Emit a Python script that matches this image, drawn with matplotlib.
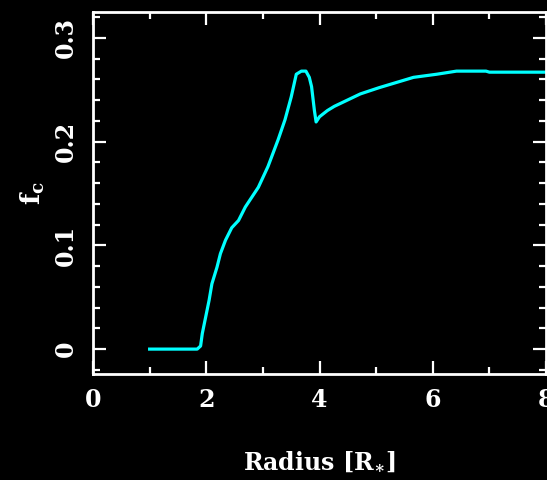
import numpy as np
import matplotlib
matplotlib.use("Agg")
import matplotlib.pyplot as plt
from matplotlib.ticker import MultipleLocator

# f_c profile
radius = [1.0, 1.84, 1.90, 1.93, 1.99, 2.05, 2.10, 2.19, 2.25, 2.34, 2.45,
          2.57, 2.69, 2.92, 3.09, 3.27, 3.39, 3.50, 3.59, 3.68, 3.76, 3.82,
          3.86, 3.91, 3.94, 4.00, 4.14, 4.26, 4.49, 4.72, 5.05, 5.66, 6.07,
          6.42, 6.94, 7.00, 8.00]
fc = [0.0, 0.0, 0.003, 0.015, 0.031, 0.047, 0.063, 0.079, 0.092, 0.105, 0.117,
      0.124, 0.137, 0.156, 0.176, 0.202, 0.221, 0.243, 0.265, 0.268, 0.268, 0.262,
      0.253, 0.230, 0.219, 0.224, 0.230, 0.234, 0.240, 0.246, 0.252, 0.262, 0.265,
      0.268, 0.268, 0.267, 0.267]

xticks = [0, 2, 4, 6, 8]
yticks = [0, 0.1, 0.2, 0.3]
ytick_labels = ["0", "0.1", "0.2", "0.3"]

plt.rcParams['font.family'] = 'DejaVu Serif'
plt.rcParams['font.weight'] = 'bold'
plt.rcParams['mathtext.fontset'] = 'dejavuserif'

fig = plt.figure(figsize=(5.47, 4.80), dpi=100, facecolor='black')
ax = fig.add_axes([93/547, 106/480, 453/547, 362/480], facecolor='black')

ax.plot(radius, fc, color='#00ffff', lw=2.3)

ax.set_xlim(0, 8)
ax.set_ylim(-0.024, 0.325)

for s in ax.spines.values():
    s.set_color('white')
    s.set_linewidth(2.0)

ax.set_xticks(xticks)
ax.set_yticks(yticks)
ax.set_yticklabels(ytick_labels, rotation=90, va='center')
ax.xaxis.set_minor_locator(MultipleLocator(1))
ax.yaxis.set_minor_locator(MultipleLocator(0.02))
ax.tick_params(which='both', direction='in', top=True, right=True,
               colors='white', width=1.6)
ax.tick_params(which='major', length=9.5, labelsize=17)
ax.tick_params(which='minor', length=5)
ax.tick_params(axis='x', pad=10)
ax.tick_params(axis='y', pad=11)

ax.set_xlabel(r'Radius [R$_{\ast}$]', color='white', fontsize=17,
              fontweight='bold', labelpad=27)
ax.set_ylabel(r'f$_{\rm c}$', color='white', fontsize=19,
              fontweight='bold', labelpad=5)

fig.savefig('out.png', dpi=100, facecolor='black')
